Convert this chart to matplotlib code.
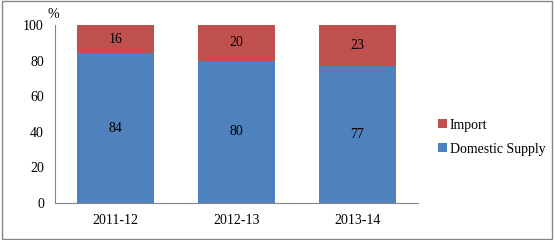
import matplotlib.pyplot as plt
from matplotlib.patches import Rectangle

plt.rcParams['font.family'] = ['Liberation Serif', 'DejaVu Serif']

years = ['2011-12', '2012-13', '2013-14']
domestic = [84, 80, 77]
imports = [16, 20, 23]

blue = '#4F81BD'
red = '#C0504D'

fig = plt.figure(figsize=(5.54, 2.40), dpi=100)
ax = fig.add_axes([0.0993, 0.154, 0.6552, 0.742])

x = range(len(years))
b1 = ax.bar(x, domestic, width=0.64, color=blue, label='Domestic Supply')
b2 = ax.bar(x, imports, width=0.64, bottom=domestic, color=red, label='Import')

for i in x:
    ax.text(i, domestic[i] / 2, str(domestic[i]), ha='center', va='center', fontsize=10)
    ax.text(i, domestic[i] + imports[i] / 2, str(imports[i]), ha='center', va='center', fontsize=10)

ax.set_xlim(-0.5, 2.5)
ax.set_ylim(0, 100)
ax.set_yticks(range(0, 101, 20))
ax.set_xticks(list(x))
ax.set_xticklabels(years)
ax.tick_params(length=0, labelsize=10, pad=8)
ax.tick_params(axis='y', pad=8)
for s in ['top', 'right']:
    ax.spines[s].set_visible(False)
for s in ['left', 'bottom']:
    ax.spines[s].set_color('#868686')
    ax.spines[s].set_linewidth(0.8)

ax.text(-0.02, 1.02, '%', transform=ax.transAxes, ha='left', va='bottom', fontsize=10)

ax.legend([b2, b1], ['Import', 'Domestic Supply'], loc='center left',
          bbox_to_anchor=(1.022, 0.37), frameon=False, fontsize=10,
          handlelength=0.6, handleheight=0.6, handletextpad=0.2, labelspacing=0.8)

fig.add_artist(Rectangle((0.003, 0.006), 0.994, 0.988, transform=fig.transFigure,
                         fill=False, edgecolor='#868686', linewidth=1.0))

fig.savefig('out.png', dpi=100)
